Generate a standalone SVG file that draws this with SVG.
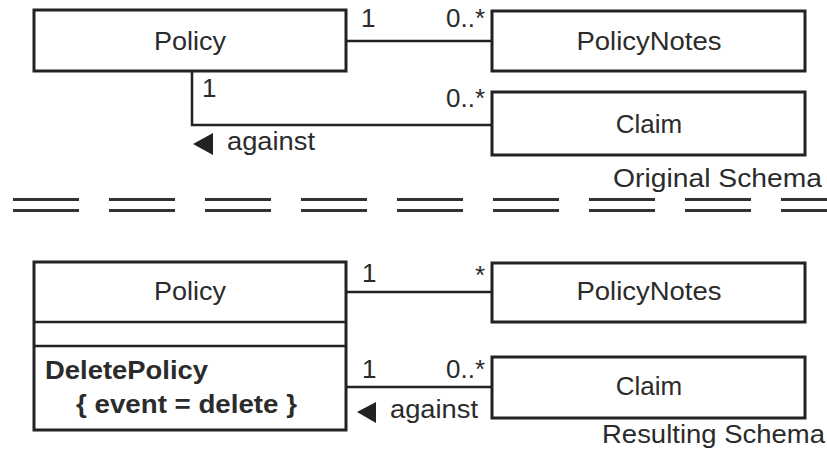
<svg xmlns="http://www.w3.org/2000/svg" width="827" height="461" viewBox="0 0 827 461">
<style>
.box{fill:#fff;stroke:#222;stroke-width:3}
.ln{fill:none;stroke:#222;stroke-width:2.5}
.t{font-family:"Liberation Sans",Arial,sans-serif;font-size:26px;fill:#2b2b2b}
.c{text-anchor:middle}
.e{text-anchor:end}
.b{font-weight:bold}
.dash{stroke:#333;stroke-width:3;stroke-dasharray:66 30}
</style>
<rect width="827" height="461" fill="#fff"/>
<g id="connectors">
  <line class="ln" x1="346" y1="41" x2="492" y2="41"/>
  <polyline class="ln" points="192,71 192,125 492,125"/>
  <line class="ln" x1="346" y1="292" x2="492" y2="292"/>
  <line class="ln" x1="346" y1="387" x2="492" y2="387"/>
  <text class="t" x="361" y="27">1</text>
  <text class="t e" x="485" y="27">0..*</text>
  <text class="t" x="202" y="97">1</text>
  <text class="t e" x="485" y="107">0..*</text>
  <polygon points="193,144 213,133 213,155" fill="#222"/>
  <text class="t" x="227" y="150" textLength="88" lengthAdjust="spacingAndGlyphs">against</text>
  <text class="t" x="362" y="282">1</text>
  <text class="t e" x="485" y="284">*</text>
  <text class="t" x="362" y="378">1</text>
  <text class="t e" x="485" y="378">0..*</text>
  <polygon points="357,412 376,402 376,423" fill="#222"/>
  <text class="t" x="390" y="418" textLength="88" lengthAdjust="spacingAndGlyphs">against</text>
</g>
<g id="policy-orig">
  <rect class="box" x="34" y="10" width="312" height="61"/>
  <text class="t c" x="190" y="50" textLength="72" lengthAdjust="spacingAndGlyphs">Policy</text>
</g>
<g id="policynotes-orig">
  <rect class="box" x="492" y="11" width="313" height="60"/>
  <text class="t c" x="649" y="50" textLength="145" lengthAdjust="spacingAndGlyphs">PolicyNotes</text>
</g>
<g id="claim-orig">
  <rect class="box" x="492" y="92" width="313" height="63"/>
  <text class="t c" x="649" y="133">Claim</text>
</g>
<g id="separator">
  <line class="dash" x1="13" y1="199.5" x2="827" y2="199.5"/>
  <line class="dash" x1="13" y1="210.5" x2="827" y2="210.5"/>
  <text class="t" x="613" y="187" textLength="209" lengthAdjust="spacingAndGlyphs">Original Schema</text>
</g>
<g id="policy-result">
  <rect class="box" x="34" y="262" width="312" height="168"/>
  <line class="ln" x1="34" y1="322" x2="346" y2="322" stroke-width="3"/>
  <line class="ln" x1="34" y1="346" x2="346" y2="346" stroke-width="3"/>
  <text class="t c" x="190" y="300" textLength="72" lengthAdjust="spacingAndGlyphs">Policy</text>
  <text class="t b" x="45" y="379" textLength="163" lengthAdjust="spacingAndGlyphs">DeletePolicy</text>
  <text class="t b" x="76" y="413" textLength="221" lengthAdjust="spacingAndGlyphs">{ event = delete }</text>
</g>
<g id="policynotes-result">
  <rect class="box" x="492" y="263" width="313" height="59"/>
  <text class="t c" x="649" y="300" textLength="145" lengthAdjust="spacingAndGlyphs">PolicyNotes</text>
</g>
<g id="claim-result">
  <rect class="box" x="492" y="357" width="313" height="61"/>
  <text class="t c" x="649" y="395">Claim</text>
</g>
<text class="t" x="602" y="443" textLength="223" lengthAdjust="spacingAndGlyphs">Resulting Schema</text>
</svg>
